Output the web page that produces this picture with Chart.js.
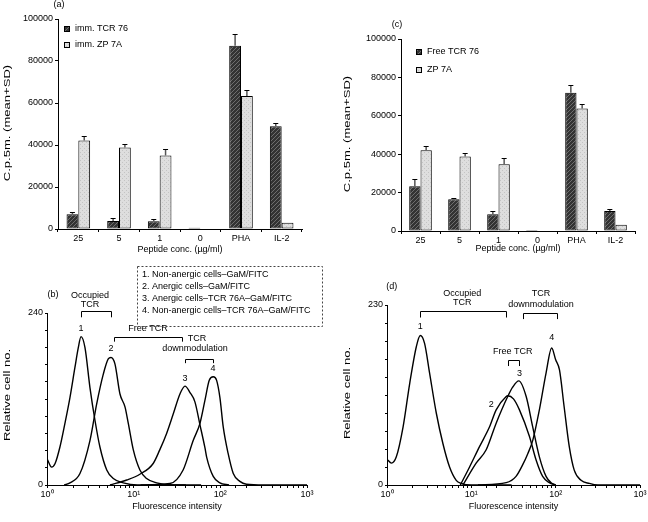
<!DOCTYPE html>
<html>
<head>
<meta charset="utf-8">
<title>TCR proliferation and staining</title>
<script src="https://cdn.jsdelivr.net/npm/chart.js@4.4.1/dist/chart.umd.min.js"></script>
<style>
body { margin:0; background:#fff; width:648px; height:522px; overflow:hidden; position:relative; }
canvas { position:absolute; }
</style>
</head>
<body>
<canvas id="chartA" width="324" height="261" style="left:0;top:0"></canvas>
<canvas id="chartC" width="324" height="261" style="left:324px;top:0"></canvas>
<canvas id="chartB" width="324" height="261" style="left:0;top:261px"></canvas>
<canvas id="chartD" width="324" height="261" style="left:324px;top:261px"></canvas>
<script>
// bar panels (a) and (c)
const categories = ["25", "5", "1", "0", "PHA", "IL-2"];
const aTcr = [7000, 3800, 3700, 600, 87300, 48900];
const aTcrSD = [1300, 1300, 1300, 0, 5400, 1600];
const aZp = [42100, 38800, 35000, 200, 63300, 3000];
const aZpSD = [2400, 1900, 3300, 0, 2700, 0];
const cTcr = [23300, 16500, 8700, 500, 72000, 10400];
const cTcrSD = [3800, 700, 1700, 0, 4000, 1300];
const cZp = [42100, 38800, 34800, 300, 63800, 3300];
const cZpSD = [2200, 1700, 3300, 0, 2600, 0];

// histogram panels (b) and (d): fluorescence intensity vs relative cell no.
const b1X = [1.0, 1.13, 1.24, 1.41, 1.61, 1.84, 2.10, 2.30, 2.47, 2.74, 3.13, 3.58, 4.08, 4.89, 5.82, 7.59, 11.0, 40];
const b1Y = [37, 25, 30, 53, 86, 122, 164, 192, 207, 192, 136, 90, 53, 21, 9, 3, 0, 0];
const b2X = [1.58, 1.84, 2.40, 3.13, 3.74, 4.47, 5.09, 5.47, 6.08, 6.95, 7.94, 8.67, 9.91, 11.8, 14.1, 18.4, 28.2, 60];
const b2Y = [0, 3, 16, 62, 113, 155, 176, 178, 169, 127, 109, 86, 49, 21, 9, 3, 0, 0];
const b3X = [5.33, 8.32, 11.8, 16.8, 20.0, 24.0, 28.6, 34.2, 39.1, 44.7, 50.9, 58.2, 66.4, 69.5, 82.8, 98.9, 126];
const b3Y = [0, 7, 15, 30, 49, 72, 99, 127, 138, 129, 116, 84, 52, 39, 12, 3, 0];
const b4X = [12, 26.2, 37.2, 48.6, 58.2, 66.4, 74.5, 82.8, 90.6, 98.9, 108, 123, 141, 168, 200, 316, 1000];
const b4Y = [0, 2, 21, 62, 86, 118, 146, 151, 146, 122, 81, 44, 16, 5, 1, 0, 0];

const d1X = [1.0, 1.13, 1.29, 1.55, 1.86, 2.23, 2.48, 2.79, 3.20, 3.84, 4.60, 5.52, 6.62, 7.59, 10, 30];
const d1Y = [33, 28, 36, 74, 130, 177, 191, 181, 143, 92, 53, 23, 6, 2, 0, 0];
const d2X = [7.41, 9.53, 12.5, 16.4, 19.7, 25.9, 27.0, 31.6, 37.2, 48.9, 58.6, 70.1, 84.1, 100];
const d2Y = [0, 23, 49, 74, 96, 113, 114, 110, 96, 62, 32, 11, 3, 0];
const d3X = [7.94, 11.4, 15.0, 19.7, 27.0, 30.9, 36.6, 44.7, 53.5, 64.1, 76.9, 88.1, 100];
const d3Y = [0, 28, 45, 79, 113, 125, 133, 113, 74, 36, 11, 3, 0];
const d4X = [12, 25.9, 33.9, 40.7, 46.7, 53.5, 64.1, 76.9, 89.7, 100, 111, 126, 145, 166, 200, 251, 316, 1000];
const d4Y = [0, 3, 11, 26, 40, 57, 96, 143, 175, 160, 147, 100, 49, 19, 6, 2, 0, 0];

const FONT = "'Liberation Sans', Arial, Helvetica, sans-serif";
Chart.defaults.font.family = FONT;
Chart.defaults.font.size = 9;
Chart.defaults.color = "#000";
Chart.defaults.animation = false;

function makePattern(base, line, diag) {
  const c = document.createElement("canvas");
  c.width = 4; c.height = 4;
  const g = c.getContext("2d");
  g.fillStyle = base; g.fillRect(0, 0, 4, 4);
  g.fillStyle = line;
  if (diag) {
    for (let i = 0; i < 4; i++) g.fillRect(i, 3 - i, 1, 1);
  } else {
    g.fillRect(0, 0, 1, 1); g.fillRect(2, 2, 1, 1);
  }
  return g.createPattern(c, "repeat");
}
const fills = {
  dark: makePattern("#333", "#6e6e6e", true),
  light: makePattern("#dedede", "#c4c4c4", false)
};

// annotation specs, looked up by canvas id
const decorSpec = {
  chartA: {
    yTitle: { text: "C.p.5m. (mean+SD)", px: 7, py: 123 },
    labels: [{ text: "(a)", px: 59, py: 5 }],
    keys: [
      { fill: "dark", text: "imm. TCR 76", px: 67, py: 29 },
      { fill: "light", text: "imm. ZP 7A", px: 67, py: 45 }
    ]
  },
  chartC: {
    yTitle: { text: "C.p.5m. (mean+SD)", px: 23, py: 134 },
    labels: [{ text: "(c)", px: 73, py: 25 }],
    keys: [
      { fill: "dark", text: "Free TCR 76", px: 95, py: 52 },
      { fill: "light", text: "ZP 7A", px: 95, py: 70 }
    ]
  },
  chartB: {
    yTitle: { text: "Relative cell no.", px: 7, py: 134 },
    box: {
      left: 137, top: 5, right: 322, bottom: 65,
      lines: [
        "1. Non-anergic cells\u2013GaM/FITC",
        "2. Anergic cells\u2013GaM/FITC",
        "3. Anergic cells\u2013TCR 76A\u2013GaM/FITC",
        "4. Non-anergic cells\u2013TCR 76A\u2013GaM/FITC"
      ]
    },
    notes: [
      { text: "(b)", x: 1.17, y: 266 },
      { text: "Occupied", x: 3.13, y: 265 },
      { text: "TCR", x: 3.13, y: 252 },
      { text: "1", x: 2.47, y: 219 },
      { text: "2", x: 5.47, y: 190 },
      { text: "Free TCR", x: 14.6, y: 218 },
      { text: "TCR", x: 53.7, y: 205 },
      { text: "downmodulation", x: 50.9, y: 190 },
      { text: "3", x: 39.1, y: 148 },
      { text: "4", x: 82.2, y: 162 }
    ],
    brackets: [
      { x1: 2.47, x2: 5.47, y: 243, y2: 234 },
      { x1: 5.93, x2: 36.1, y: 207, y2: 200 },
      { x1: 39.1, x2: 82.2, y: 176, y2: 170 }
    ]
  },
  chartD: {
    yTitle: { text: "Relative cell no.", px: 23, py: 132 },
    notes: [
      { text: "(d)", x: 1.14, y: 253 },
      { text: "Occupied", x: 7.8, y: 245 },
      { text: "TCR", x: 7.8, y: 233 },
      { text: "TCR", x: 67, y: 245 },
      { text: "downmodulation", x: 67, y: 231 },
      { text: "1", x: 2.48, y: 202 },
      { text: "4", x: 89.7, y: 189 },
      { text: "Free TCR", x: 31, y: 170 },
      { text: "3", x: 37.2, y: 142 },
      { text: "2", x: 17.2, y: 103 }
    ],
    brackets: [
      { x1: 2.48, x2: 25.9, y: 222, y2: 214 },
      { x1: 40.7, x2: 103, y: 220, y2: 212 },
      { x1: 27.0, x2: 37.2, y: 160, y2: 152 }
    ]
  }
};

const decor = {
  id: "decor",
  afterDraw(chart) {
    const o = decorSpec[chart.canvas.id];
    if (!o) return;
    const ctx = chart.ctx, xs = chart.scales.x, ys = chart.scales.y;
    ctx.save();
    ctx.fillStyle = "#000";
    ctx.strokeStyle = "#000";
    ctx.lineWidth = 1;
    ctx.font = "9px " + FONT;
    ctx.textBaseline = "middle";
    ctx.textAlign = "center";
    if (o.yTitle) {
      // the printed figure is stretched vertically, so the rotated title runs long
      ctx.save();
      ctx.translate(o.yTitle.px, o.yTitle.py);
      ctx.rotate(-Math.PI / 2);
      ctx.scale(1.45, 1.05);
      ctx.fillText(o.yTitle.text, 0, 0);
      ctx.restore();
    }
    (o.labels || []).forEach(l => ctx.fillText(l.text, l.px, l.py));
    (o.notes || []).forEach(l => ctx.fillText(l.text, xs.getPixelForValue(l.x), ys.getPixelForValue(l.y)));
    (o.brackets || []).forEach(b => {
      const x1 = Math.round(xs.getPixelForValue(b.x1)) + 0.5;
      const x2 = Math.round(xs.getPixelForValue(b.x2)) + 0.5;
      const y1 = Math.round(ys.getPixelForValue(b.y)) + 0.5;
      const y2 = ys.getPixelForValue(b.y2);
      ctx.beginPath();
      ctx.moveTo(x1, y2); ctx.lineTo(x1, y1); ctx.lineTo(x2, y1); ctx.lineTo(x2, y2);
      ctx.stroke();
    });
    (o.keys || []).forEach(k => {
      ctx.fillStyle = fills[k.fill];
      ctx.fillRect(k.px - 2.5, k.py - 2.5, 5, 5);
      ctx.strokeRect(k.px - 2.5, k.py - 2.5, 5, 5);
      ctx.fillStyle = "#000";
      ctx.textAlign = "left";
      ctx.fillText(k.text, k.px + 8, k.py);
    });
    if (o.box) {
      const bx = o.box;
      ctx.strokeStyle = "#444";
      ctx.setLineDash([2, 2]);
      ctx.strokeRect(bx.left + 0.5, bx.top + 0.5, bx.right - bx.left, bx.bottom - bx.top);
      ctx.setLineDash([]);
      ctx.textAlign = "left";
      bx.lines.forEach((t, i) => ctx.fillText(t, bx.left + 5, bx.top + 9 + i * 12));
    }
    ctx.restore();
  }
};

const errorBars = {
  id: "errorBars",
  afterDatasetsDraw(chart) {
    const ctx = chart.ctx, ys = chart.scales.y;
    chart.data.datasets.forEach((ds, i) => {
      if (!ds.sd) return;
      chart.getDatasetMeta(i).data.forEach((bar, j) => {
        const sd = ds.sd[j];
        if (!sd) return;
        const top = Math.round(ys.getPixelForValue(ds.data[j] + sd)) + 0.5;
        ctx.save();
        ctx.strokeStyle = "#555";
        ctx.lineWidth = 1.5;
        ctx.beginPath(); ctx.moveTo(bar.x, bar.y); ctx.lineTo(bar.x, top); ctx.stroke();
        ctx.strokeStyle = "#000";
        ctx.lineWidth = 1;
        ctx.beginPath(); ctx.moveTo(bar.x - 2.5, top); ctx.lineTo(bar.x + 2.5, top); ctx.stroke();
        ctx.restore();
      });
    });
  }
};

function axisLook(tickLen) {
  return {
    border: { display: true, color: "#000", width: 1 },
    grid: { drawOnChartArea: false, drawTicks: true, tickLength: tickLen, color: "#000" }
  };
}

function barChart(id, tcr, tcrSD, zp, zpSD, g) {
  new Chart(document.getElementById(id), {
    type: "bar",
    data: {
      labels: categories,
      datasets: [
        { data: tcr, sd: tcrSD, backgroundColor: fills.dark, borderColor: "#000", borderWidth: 1, borderSkipped: false },
        { data: zp, sd: zpSD, backgroundColor: fills.light, borderColor: "#000", borderWidth: 1, borderSkipped: false }
      ]
    },
    options: {
      responsive: false,
      events: [],
      layout: { padding: { left: 0, top: g.top, right: g.right, bottom: 0 } },
      datasets: { bar: { categoryPercentage: 0.58, barPercentage: 1.0 } },
      plugins: { legend: { display: false }, tooltip: { enabled: false } },
      scales: {
        x: Object.assign(axisLook(3), {
          ticks: { padding: 1, maxRotation: 0 },
          title: { display: true, text: "Peptide conc. (\u00b5g/ml)", padding: { top: 0, bottom: g.xTitle } },
          afterFit: s => { s.height = g.xH; }
        }),
        y: Object.assign(axisLook(3), {
          min: 0, max: 100000,
          ticks: { stepSize: 20000, padding: 2, callback: v => String(v) },
          afterFit: s => { s.width = g.yW; }
        })
      }
    },
    plugins: [errorBars, decor]
  });
}

const SUP = ["\u2070", "\u00b9", "\u00b2", "\u00b3"];

function line(xs, ys) {
  return {
    data: xs.map((x, i) => ({ x: x, y: ys[i] })),
    showLine: true,
    borderColor: "#000",
    borderWidth: 1.4,
    pointRadius: 0,
    cubicInterpolationMode: "monotone"
  };
}

function histChart(id, series, yMax, g) {
  new Chart(document.getElementById(id), {
    type: "scatter",
    data: { datasets: series },
    options: {
      responsive: false,
      events: [],
      layout: { padding: { left: 0, top: g.top, right: g.right, bottom: 0 } },
      plugins: { legend: { display: false }, tooltip: { enabled: false } },
      scales: {
        x: Object.assign(axisLook(3), {
          type: "logarithmic",
          min: 1, max: 1000,
          ticks: {
            padding: 1, autoSkip: false, maxRotation: 0,
            callback: v => {
              const l = Math.log10(v);
              return Math.abs(l - Math.round(l)) < 1e-6 ? "10" + SUP[Math.round(l)] : "";
            }
          },
          title: { display: true, text: "Fluorescence intensity", padding: { top: 0, bottom: g.xTitle } },
          afterFit: s => { s.height = g.xH; }
        }),
        y: Object.assign(axisLook(2), {
          min: 0, max: yMax,
          ticks: { stepSize: yMax / 10, padding: 2, callback: v => (v === 0 || v === yMax) ? String(v) : "" },
          afterFit: s => { s.width = g.yW; }
        })
      }
    },
    plugins: [decor]
  });
}

barChart("chartA", aTcr, aTcrSD, aZp, aZpSD, { top: 19, right: 22, xH: 32, yW: 58, xTitle: 6.5 });
barChart("chartC", cTcr, cTcrSD, cZp, cZpSD, { top: 39, right: 13, xH: 30, yW: 77, xTitle: 7.5 });
histChart("chartB", [line(b1X, b1Y), line(b2X, b2Y), line(b3X, b3Y), line(b4X, b4Y)], 240,
  { top: 52, right: 17, xH: 37, yW: 47, xTitle: 10 });
histChart("chartD", [line(d1X, d1Y), line(d2X, d2Y), line(d3X, d3Y), line(d4X, d4Y)], 230,
  { top: 44, right: 8, xH: 37, yW: 63, xTitle: 10 });
</script>
</body>
</html>
